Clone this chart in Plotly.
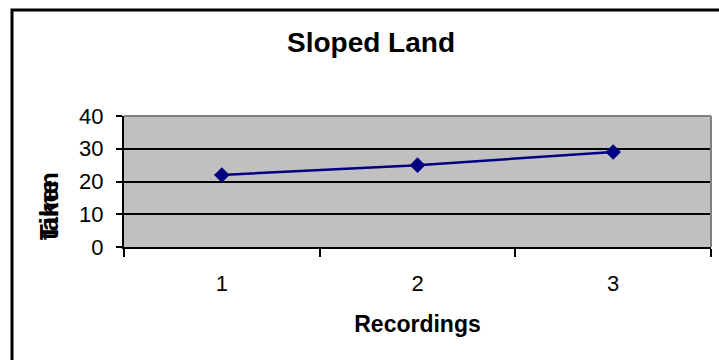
import plotly.graph_objects as go

# Recorded times for each run on the sloped plot
recordings = ["1", "2", "3"]
time_taken = [22, 25, 29]
y_ticks = [0, 10, 20, 30, 40]

W, H = 719, 360
L, R, T, B = 124, 8, 116, 113
pw, ph = W - L - R, H - T - B

def px_x(px):
    return (px - L) / pw

def px_y(py):
    return (H - B - py) / ph

fig = go.Figure()
fig.add_trace(go.Scatter(
    x=recordings, y=time_taken, mode="lines+markers",
    line=dict(color="#000080", width=2.5),
    marker=dict(symbol="diamond", size=12, color="#000080"),
    showlegend=False, cliponaxis=False,
))

shapes = [
    # grey plot area
    dict(type="rect", xref="paper", yref="paper", x0=0, x1=1, y0=0, y1=1,
         fillcolor="#C0C0C0", line=dict(width=0), layer="below"),
    # grey frame on top and right
    dict(type="line", xref="paper", yref="paper", x0=0, x1=1, y0=1, y1=1,
         line=dict(color="#808080", width=2), layer="above"),
    dict(type="line", xref="paper", yref="paper", x0=1, x1=1, y0=0, y1=1,
         line=dict(color="#808080", width=2), layer="above"),
    # chart border
    dict(type="rect", xref="paper", yref="paper",
         x0=px_x(12), y0=px_y(10), x1=px_x(760), y1=px_y(400),
         line=dict(color="black", width=3), fillcolor="rgba(0,0,0,0)"),
]

# two stacked lines of the axis caption, drawn over one another
annotations = [
    dict(text="<b>Time</b>", xref="paper", yref="paper", x=px_x(49), y=px_y(242),
         xanchor="center", yanchor="bottom", textangle=-90, showarrow=False,
         font=dict(family="Arial, Liberation Sans", size=26, color="black")),
    dict(text="<b>taken</b>", xref="paper", yref="paper", x=px_x(49), y=px_y(242),
         xanchor="center", yanchor="bottom", textangle=-90, showarrow=False,
         font=dict(family="Arial, Liberation Sans", size=26, color="black")),
]

fig.update_layout(
    width=W, height=H,
    margin=dict(l=L, r=R, t=T, b=B),
    paper_bgcolor="white", plot_bgcolor="rgba(0,0,0,0)",
    font=dict(family="Arial, Liberation Sans", color="black", size=22),
    title=dict(text="<b>Sloped Land</b>", xref="container", x=371 / W,
               xanchor="center", yref="container", y=1 - 42 / H,
               yanchor="middle", font=dict(size=28, color="black")),
    shapes=shapes, annotations=annotations,
)

fig.update_xaxes(
    type="category", range=[-0.5, 2.5], tickson="boundaries", ticks="outside",
    ticklen=8, tickwidth=1.5, tickcolor="black", showline=True,
    linecolor="black", linewidth=2, showgrid=False, ticklabelstandoff=16,
    tickfont=dict(size=22),
    title=dict(text="<b>Recordings</b>", font=dict(size=23), standoff=20),
)
fig.update_yaxes(
    range=[0, 40], tickvals=y_ticks, ticks="outside", ticklen=6, tickwidth=1.5,
    tickcolor="black", showline=True, linecolor="black", linewidth=2,
    showgrid=True, gridcolor="black", gridwidth=1.5, zeroline=False,
    ticklabelstandoff=8, tickfont=dict(size=22),
)

fig.write_html("out.html")
